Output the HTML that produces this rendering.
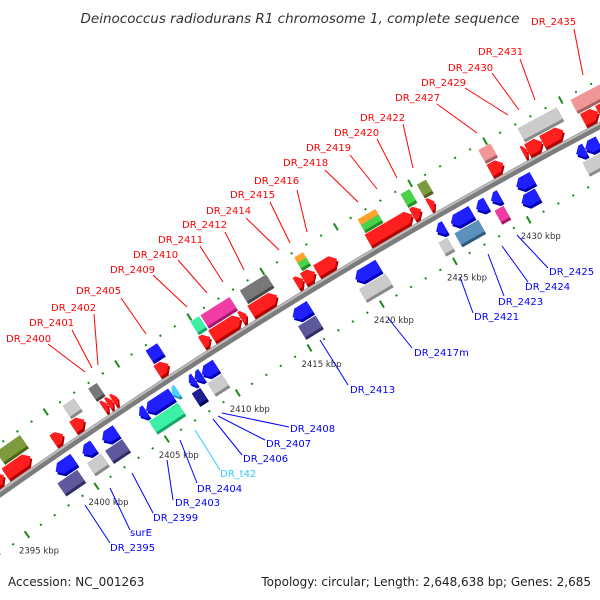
<!DOCTYPE html>
<html><head><meta charset="utf-8"><style>
html,body{margin:0;padding:0;background:#fff;}
svg{display:block;}
text{font-family:"DejaVu Sans","Liberation Sans",sans-serif;}
</style></head><body>
<svg id="chart" width="600" height="600" viewBox="0 0 600 600" xmlns="http://www.w3.org/2000/svg">
<text x="300" y="23" text-anchor="middle" font-size="13.5" font-style="italic" fill="#333">Deinococcus radiodurans R1 chromosome 1, complete sequence</text>
<g id="tracks"></g>
<g id="backbone"></g>
<g id="genes"></g>
<g id="labels"></g>
<text x="8" y="586" font-size="12" fill="#222">Accession: NC_001263</text>
<text x="591" y="586" font-size="12" fill="#222" text-anchor="end">Topology: circular; Length: 2,648,638 bp; Genes: 2,685</text>
</svg>
<script>
// ---- data ----
const tickKbp = [2395, 2400, 2405, 2410, 2415, 2420, 2425, 2430];
const tickLabels = ["2395 kbp","2400 kbp","2405 kbp","2410 kbp","2415 kbp","2420 kbp","2425 kbp","2430 kbp"];
const geneStart = [2394.2,2396.3,2396.0,2399.4,2401.0,2400.8,2398.5,2398.2,2400.4,2400.3,2401.8,2401.6,2402.8,2402.9,2403.25,2403.6,2404.4,2404.9,2406.7,2404.7,2406.7,2406.8,2407.9,2408.3,2408.8,2407.7,2408.8,2409.8,2409.9,2410.5,2410.6,2412.5,2413.2,2413.3,2415.1,2415.1,2416.3,2416.8,2417.7,2417.0,2417.0,2419.4,2419.3,2421.2,2424.2,2421.3,2421.3,2424.2,2425.3,2425.3,2424.9,2424.7,2425.9,2425.8,2427.6,2428.5,2428.6,2430.3,2430.1,2429.4,2429.4,2432.0,2431.6,2431.9,2432.9,2435.5,2435.6,2436.6,2434.3,2434.9,2434.4];
const geneEnd   = [2395.9,2398.0,2397.8,2400.1,2401.8,2401.6,2399.8,2399.6,2401.2,2401.3,2402.8,2402.8,2403.4,2403.25,2403.6,2403.95,2404.9,2406.7,2407.1,2406.7,2407.5,2407.6,2408.3,2408.8,2409.8,2408.3,2409.8,2410.4,2410.5,2412.5,2412.6,2412.9,2415.0,2415.1,2416.3,2416.3,2416.8,2417.6,2419.1,2417.6,2417.6,2421.0,2421.1,2424.2,2424.8,2422.5,2422.5,2424.8,2425.9,2425.7,2425.5,2425.3,2427.3,2427.4,2428.3,2429.1,2429.2,2431.4,2431.2,2430.2,2430.3,2434.6,2431.9,2432.9,2434.3,2437.5,2436.6,2437.6,2434.9,2435.8,2436.0];
const geneRow   = ["F1","F2","F1","F1","F2","F1","R1","R2","R1","R2","R1","R2","F2","F1","F1","F1","R1","R1","R1","R2","F1","F2","R1","R1","R1","R2","R2","F1","F2","F1","F2","F1","F1","F2","R1","R2","F1","F1","F1","F2a","F2b","R1","R2","F1","F1","F2a","F2b","F2","F2","F1","R1","R2","R1","R2","R1","R2","R1","R1","R2","F2","F1","F2","F1","F1","F1","F2","F1","F1","R1","R1","R2"];
const geneShape = ["fwd","box","fwd","fwd","box","fwd","rev","box","rev","box","rev","box","box","fwd","fwd","fwd","rev","rev","rev","box","fwd","box","rev","rev","rev","box","box","fwd","box","fwd","box","fwd","fwd","box","rev","box","fwd","fwd","fwd","box","box","rev","box","fwd","fwd","box","box","box","box","fwd","rev","box","rev","box","rev","box","rev","rev","rev","box","fwd","box","fwd","fwd","fwd","box","fwd","fwd","rev","rev","box"];
const geneKind  = ["cdsF","misc2","cdsF","cdsF","pseudo","cdsF","cdsR","cdsR2","cdsR","pseudo","cdsR","cdsR2","dark","cdsF","cdsF","cdsF","cdsR","cdsR","trna","mint","cdsF","cdsR","cdsR","cdsR","cdsR","navy","pseudo","cdsF","mint","cdsF","magenta","cdsF","cdsF","dark","cdsR","cdsR2","cdsF","cdsF","cdsF","orange","green","cdsR","pseudo","cdsF","cdsF","orange","green","green","misc2","cdsF","cdsR","pseudo","cdsR","steel","cdsR","magenta","cdsR","cdsR","cdsR","pink","cdsF","pseudo","cdsF","cdsF","cdsF","pink","cdsF","cdsF","cdsR","cdsR","pseudo"];

// ---- geometry ----
const CX=3153, CY=4961, R=5468, TH0=234.77, DEG=0.179, K0=2395;
const PXK = R*DEG*Math.PI/180;
const NS="http://www.w3.org/2000/svg";
const colors={cdsF:"#ff0000",cdsR:"#0000ff",cdsR2:"#48428f",pseudo:"#c4c4c4",dark:"#666666",misc2:"#6b8e23",mint:"#22ee99",navy:"#000080",magenta:"#ee2299",orange:"#ff9911",green:"#33cc33",steel:"#4682b4",pink:"#ee8888",trna:"#33ccff"};
const rows={F1:[13,13],F2:[30,13],F2a:[33,6.5],F2b:[26.5,6.5],R1:[-14,13],R2:[-31,13]};
function th(k){return TH0+(k-K0)*DEG;}
function pt(k,off){const t=th(k)*Math.PI/180;return [CX+(R+off)*Math.cos(t),CY+(R+off)*Math.sin(t)];}
function mk(tag,attrs,parent){const e=document.createElementNS(NS,tag);for(const a in attrs)e.setAttribute(a,attrs[a]);parent.appendChild(e);return e;}
function arcPath(k1,k2,off){const a=pt(k1,off),b=pt(k2,off);return "M"+a[0]+","+a[1]+" A"+(R+off)+","+(R+off)+" 0 0 1 "+b[0]+","+b[1];}

// tracks
const tr=document.getElementById("tracks");
[41,-49].forEach(function(off){
  for(let k=2388;k<=2442;k++){
    const p=pt(k,off), rot=th(k)+90;
    const big=(k%5===0);
    const d=mk("rect",{x:-1,y:big?-4:-1,width:2,height:big?8:2,fill:"#1a8a1a",transform:"translate("+p[0]+","+p[1]+") rotate("+rot+")"},tr);
    
    
  }
});
tickKbp.forEach(function(k,i){
  const p=pt(k,-49);
  const t=mk("text",{x:p[0]-8,y:p[1]+19,"font-size":"8.5",fill:"#333"},tr);
  t.textContent=tickLabels[i];
  
  
});

// backbone
const bb=document.getElementById("backbone");
const b1=mk("path",{d:arcPath(2385,2445,0),stroke:"#7c7c7c","stroke-width":7,fill:"none"},bb);


const b2=mk("path",{d:arcPath(2385,2445,2),stroke:"#bdbdbd","stroke-width":2,fill:"none"},bb);



// genes
const gg=document.getElementById("genes");
function shapePts(L,h,shape){
  const x0=-L/2,x1=L/2,y0=-h/2,y1=h/2,hd=Math.min(6,L*0.6);
  if(shape==="fwd") return [[x0,y0],[x1-hd,y0],[x1,0],[x1-hd,y1],[x0,y1]];
  if(shape==="rev") return [[x0,0],[x0+hd,y0],[x1,y0],[x1,y1],[x0+hd,y1]];
  return [[x0,y0],[x1,y0],[x1,y1],[x0,y1]];
}
for(let i=0;i<geneStart.length;i++){
  const s=geneStart[i],e=geneEnd[i],mid=(s+e)/2,row=rows[geneRow[i]];
  const L=(e-s)*PXK,h=row[1];
  const p=pt(mid,row[0]),rot=th(mid)+90;
  const g=mk("g",{transform:"translate("+p[0].toFixed(2)+","+p[1].toFixed(2)+") rotate("+rot.toFixed(3)+")"},gg);
  
  
  const pts=shapePts(L,h,geneShape[i]).map(q=>q[0].toFixed(2)+","+q[1].toFixed(2)).join(" ");
  mk("polygon",{points:pts,fill:colors[geneKind[i]],transform:"translate(0,3)"},g);
  mk("polygon",{points:pts,fill:"#000","fill-opacity":"0.3",transform:"translate(0,3)"},g);
  mk("polygon",{points:pts,fill:colors[geneKind[i]]},g);
  mk("polygon",{points:pts,fill:"#fff","fill-opacity":"0.12"},g);
}

// labels (annotation)
const lab=document.getElementById("labels");
const labelText=["DR_2435","DR_2431","DR_2430","DR_2429","DR_2427","DR_2422","DR_2420","DR_2419","DR_2418","DR_2416","DR_2415","DR_2414","DR_2412","DR_2411","DR_2410","DR_2409","DR_2405","DR_2402","DR_2401","DR_2400",
"DR_2425","DR_2424","DR_2423","DR_2421","DR_2417m","DR_2413","DR_2408","DR_2407","DR_2406","DR_t42","DR_2404","DR_2403","DR_2399","surE","DR_2395"];
const labelPos=[[531,25],[478,55],[448,71],[421,86],[395,101],[360,121],[334,136],[306,151],[283,166],[254,184],[230,198],[206,214],[182,228],[158,243],[133,258],[110,273],[76,294],[51,311],[29,326],[6,342],
[549,275],[525,290],[498,305],[474,320],[414,356],[350,393],[290,432],[266,447],[243,462],[220,477],[197,492],[175,506],[153,521],[130,536],[110,551]];
const leader=[[574,29,583,75],[520,59,535,100],[492,73,519,110],[465,88,508,115],[437,104,477,133],[403,124,413,168],[377,139,397,178],[350,155,377,189],[325,170,358,202],[297,190,307,232],[270,202,290,243],[246,218,279,250],[225,232,244,270],[200,246,223,282],[178,260,207,293],[153,275,187,307],[121,298,146,334],[94,314,98,365],[72,330,92,368],[48,344,85,372],
[517,235,548,268],[502,246,528,282],[488,254,504,296],[460,277,473,313],[388,318,412,348],[320,340,348,385],[222,413,289,427],[218,416,265,440],[213,419,242,455],[195,430,220,470],[180,440,197,483],[167,460,173,500],[132,473,153,513],[110,488,130,530],[85,505,110,543]];
for(let i=0;i<labelText.length;i++){
  const c = i<20 ? "#ff0000" : (labelText[i]==="DR_t42" ? "#33ccff" : "#0000ff");
  const l=leader[i];
  const ln=mk("line",{x1:l[0],y1:l[1],x2:l[2],y2:l[3],stroke:c,"stroke-width":1},lab);
  
  
  const t=mk("text",{x:labelPos[i][0],y:labelPos[i][1],"font-size":"10",fill:c},lab);
  t.textContent=labelText[i];
  
  
}
</script>
</body></html>
